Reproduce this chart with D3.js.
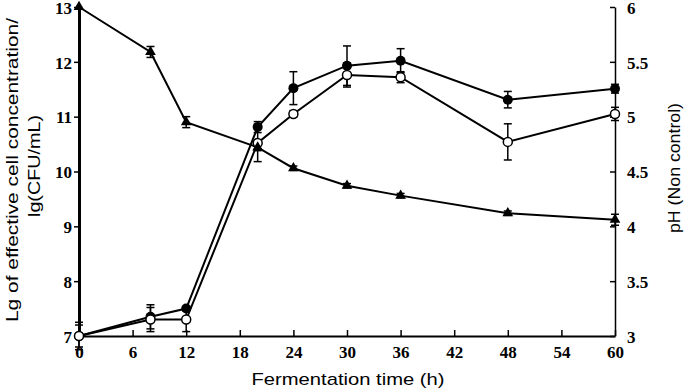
<!DOCTYPE html>
<html lang="en">
<head>
<meta charset="UTF-8">
<title>Cell concentration and pH during fermentation</title>
<script src="https://d3js.org/d3.v7.min.js"></script>
<style>
    body { margin: 0; background: #fff; }
    .tick text { font-family: "Liberation Serif", "Times New Roman", serif; font-weight: bold; font-size: 17px; fill: #000; }
    .title { font-family: "Liberation Sans", Arial, sans-serif; font-size: 17px; fill: #000; }
</style>
</head>
<body>
<svg width="685" height="391"></svg>
<script>
// fermentation time (h)
var hours = [0, 8, 12, 20, 24, 30, 36, 48, 60];
// lg(CFU/mL), filled circles
var cellFilled = [7.0, 7.35, 7.5, 10.81, 11.52, 11.93, 12.02, 11.31, 11.51];
var cellFilledErr = [0.25, 0.22, 0.04, 0.1, 0.3, 0.36, 0.22, 0.15, 0.08];
// lg(CFU/mL), open circles
var cellOpen = [7.0, 7.3, 7.3, 10.52, 11.05, 11.76, 11.72, 10.54, 11.05];
var cellOpenErr = [0.2, 0.22, 0.22, 0.34, 0.06, 0.22, 0.1, 0.33, 0.12];
// pH (non control), triangles
var pH = [6.0, 5.59, 4.95, 4.72, 4.53, 4.37, 4.28, 4.12, 4.06];
var pHErr = [0, 0.05, 0.05, 0.03, 0.02, 0.02, 0.02, 0.02, 0.05];

var xTicks = [0, 6, 12, 18, 24, 30, 36, 42, 48, 54, 60];
var yLeftTicks = [7, 8, 9, 10, 11, 12, 13];
var yRightTicks = [3, 3.5, 4, 4.5, 5, 5.5, 6];

var plotL = 79, plotR = 615, plotT = 7, plotB = 336;

var svg = d3.select("svg");

var x = d3.scaleLinear().domain([0, 60]).range([plotL, plotR]);
var yL = d3.scaleLinear().domain([7, 13]).range([plotB, plotT]);
var yR = d3.scaleLinear().domain([3, 6]).range([plotB, plotT]);

// x axis, ticks pointing up
var gx = svg.append("g")
    .attr("transform", "translate(0," + plotB + ")")
    .call(d3.axisBottom(x).tickValues(xTicks).tickSizeInner(-6).tickSizeOuter(0).tickPadding(14).tickFormat(d3.format("d")));
gx.select(".domain").attr("stroke-width", 2);
gx.selectAll(".tick line").attr("stroke-width", 1.5);
gx.selectAll(".tick text").attr("dy", "0.71em").attr("y", 10);

// left axis
var gl = svg.append("g")
    .attr("transform", "translate(" + plotL + ",0)")
    .call(d3.axisLeft(yL).tickValues(yLeftTicks).tickSizeInner(5).tickSizeOuter(0).tickPadding(2).tickFormat(d3.format("d")));
gl.select(".domain").attr("stroke-width", 3);
gl.selectAll(".tick line").attr("stroke-width", 1.5);
gl.selectAll(".tick text").attr("dy", "0.37em");

// right axis, ticks pointing in
var gr = svg.append("g")
    .attr("transform", "translate(" + plotR + ",0)")
    .call(d3.axisRight(yR).tickValues(yRightTicks).tickSizeInner(-5).tickSizeOuter(0).tickPadding(12).tickFormat(function(d) { return d; }));
gr.select(".domain").attr("stroke-width", 1.5);
gr.selectAll(".tick line").attr("stroke-width", 1.5);
gr.selectAll(".tick text").attr("dy", "0.37em");

// titles
svg.append("text").attr("class", "title")
    .attr("x", 348).attr("y", 385).attr("text-anchor", "middle")
    .attr("textLength", 193).attr("lengthAdjust", "spacingAndGlyphs")
    .text("Fermentation time (h)");
svg.append("text").attr("class", "title")
    .attr("transform", "translate(18,170) rotate(-90)").attr("text-anchor", "middle")
    .attr("textLength", 304).attr("lengthAdjust", "spacingAndGlyphs")
    .text("Lg of effective cell concentration/");
svg.append("text").attr("class", "title")
    .attr("transform", "translate(40,166) rotate(-90)").attr("text-anchor", "middle")
    .attr("textLength", 102).attr("lengthAdjust", "spacingAndGlyphs")
    .text("lg(CFU/mL)");
svg.append("text").attr("class", "title")
    .attr("transform", "translate(680,168) rotate(-90)").attr("text-anchor", "middle")
    .attr("textLength", 130).attr("lengthAdjust", "spacingAndGlyphs")
    .text("pH (Non control)");

function series(vals, errs, y) {
    return hours.map(function(h, i) { return {x: h, y: vals[i], e: errs[i], sc: y}; });
}
var sFilled = series(cellFilled, cellFilledErr, yL);
var sOpen = series(cellOpen, cellOpenErr, yL);
var sPH = series(pH, pHErr, yR);

function drawErr(data) {
    var g = svg.append("g").attr("stroke", "#000").attr("stroke-width", 1.5);
    data.filter(function(d) { return d.e > 0; }).forEach(function(d) {
        var cx = x(d.x), y1 = d.sc(d.y - d.e), y2 = d.sc(d.y + d.e);
        g.append("line").attr("x1", cx).attr("x2", cx).attr("y1", y1).attr("y2", y2);
        g.append("line").attr("x1", cx - 4).attr("x2", cx + 4).attr("y1", y1).attr("y2", y1);
        g.append("line").attr("x1", cx - 4).attr("x2", cx + 4).attr("y1", y2).attr("y2", y2);
    });
}
function drawLine(data) {
    svg.append("path").datum(data)
        .attr("fill", "none").attr("stroke", "#000").attr("stroke-width", 2)
        .attr("d", d3.line().x(function(d) { return x(d.x); }).y(function(d) { return d.sc(d.y); }));
}

drawErr(sFilled); drawErr(sOpen); drawErr(sPH);
drawLine(sPH); drawLine(sFilled); drawLine(sOpen);

svg.selectAll(".filled").data(sFilled).enter().append("circle")
    .attr("cx", function(d) { return x(d.x); }).attr("cy", function(d) { return yL(d.y); })
    .attr("r", 5).attr("fill", "#000");
svg.selectAll(".open").data(sOpen).enter().append("circle")
    .attr("cx", function(d) { return x(d.x); }).attr("cy", function(d) { return yL(d.y); })
    .attr("r", 4.5).attr("fill", "#fff").attr("stroke", "#000").attr("stroke-width", 1.5);
svg.selectAll(".tri").data(sPH).enter().append("path")
    .attr("transform", function(d) { return "translate(" + x(d.x) + "," + yR(d.y) + ")"; })
    .attr("d", d3.symbol().type(d3.symbolTriangle).size(50))
    .attr("fill", "#000");
</script>
</body>
</html>
